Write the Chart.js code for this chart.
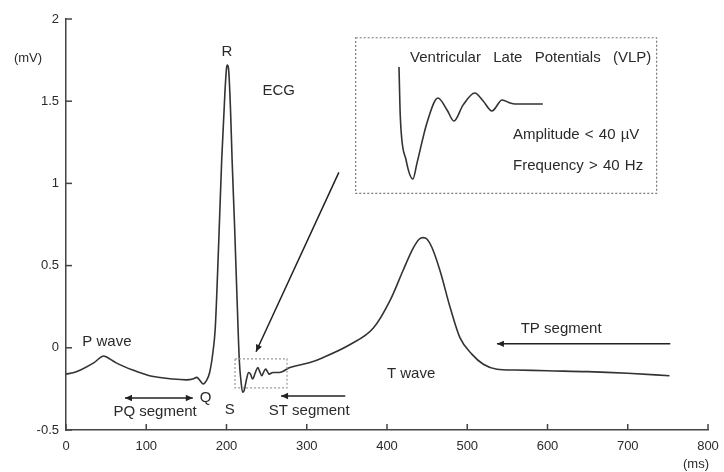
<!DOCTYPE html>
<html>
<head>
<meta charset="utf-8">
<script src="https://cdn.jsdelivr.net/npm/chart.js@4.4.0/dist/chart.umd.min.js"></script>
<style>
  html, body { margin: 0; padding: 0; background: #fff; }
  #wrap { position: relative; width: 724px; height: 472px; }
  #ecg { position: absolute; left: 0; top: 0; }
  #vlp { position: absolute; left: 395px; top: 60px; }
</style>
</head>
<body>
<div id="wrap">
  <canvas id="ecg" width="724" height="472"></canvas>
  <canvas id="vlp" width="152" height="126"></canvas>
</div>
<script>
// ECG trace, time in ms and voltage in mV
const timeMs = [0, 10, 20, 35, 47, 50, 62, 83, 104, 133, 150, 158, 163, 167, 171, 175, 179, 183, 186, 190,
  194, 198, 200, 201, 202.5, 205, 207, 210, 213, 216, 218, 220, 222, 225, 227.5, 230, 232.5, 236, 239, 241,
  244, 247, 249, 251, 253, 258, 266, 279, 304, 320, 354, 383, 404, 420, 432, 440, 445, 450, 456, 466,
  479, 491, 506, 520, 537, 560, 600, 650, 700, 752];
const voltageMv = [-0.16, -0.15, -0.13, -0.09, -0.05, -0.055, -0.09, -0.135, -0.17, -0.19, -0.195, -0.19, -0.18, -0.2, -0.22, -0.2, -0.15, -0.03, 0.12, 0.6,
  1.14, 1.55, 1.7, 1.72, 1.7, 1.45, 1.14, 0.75, 0.32, -0.08, -0.2, -0.27, -0.26, -0.19, -0.15, -0.16, -0.19, -0.15, -0.12, -0.14,
  -0.17, -0.14, -0.13, -0.145, -0.16, -0.15, -0.15, -0.12, -0.09, -0.06, 0.02, 0.12, 0.29, 0.47, 0.6, 0.66, 0.67, 0.66, 0.61, 0.47,
  0.24, 0.06, -0.04, -0.1, -0.13, -0.135, -0.14, -0.145, -0.155, -0.17];

const xTicks = [0, 100, 200, 300, 400, 500, 600, 700, 800];
const yTicks = [-0.5, 0, 0.5, 1, 1.5, 2];

// magnified late potentials (inset), time in ms, amplitude in µV
const vlpTime = [1.05, 1.4, 2.9, 4.7, 5.8, 8.4, 11.3, 13.7, 15.5, 17.9, 21, 23.2, 25.5, 28.2, 30.3, 31.6, 38.9];
const vlpMicroV = [53.3, 5.7, -35, -53.3, -38, 0, 23.8, 12.4, 1.9, 17, 28.6, 21, 11.4, 21.9, 19, 18.1, 18.1];

// labels and arrows, placed in chart units
const waveLabels = [
  { text: 'R', ms: 200.6, mv: 1.80 },
  { text: 'ECG', ms: 265, mv: 1.56 },
  { text: 'P wave', ms: 51, mv: 0.037 },
  { text: 'Q', ms: 174, mv: -0.305 },
  { text: 'PQ segment', ms: 111, mv: -0.39 },
  { text: 'S', ms: 204, mv: -0.378 },
  { text: 'ST segment', ms: 303, mv: -0.384 },
  { text: 'T wave', ms: 430, mv: -0.159 },
  { text: 'TP segment', ms: 617, mv: 0.116 }
];
const insetTexts = [
  { text: 'Ventricular  Late  Potentials  (VLP)', ms: 428.7, mv: 1.762, spacing: '2px' },
  { text: 'Amplitude < 40 \u00b5V', ms: 557, mv: 1.293, spacing: '1px' },
  { text: 'Frequency > 40 Hz', ms: 557, mv: 1.104, spacing: '1px' }
];
const arrows = [
  { from: [340, 1.067], to: [236.8, -0.024], both: false },
  { from: [73.5, -0.305], to: [158, -0.305], both: true },
  { from: [348, -0.293], to: [268, -0.293], both: false },
  { from: [753, 0.024], to: [537, 0.024], both: false }
];
const boxes = [
  { x0: 210.6, x1: 275.4, y0: -0.244, y1: -0.067, color: '#9a9a9a' },
  { x0: 361, x1: 736, y0: 0.939, y1: 1.886, color: '#777' }
];

const FONT = '"Liberation Sans", Arial, sans-serif';
const INK = '#2a2a2a';

function arrowHead(ctx, x1, y1, x2, y2) {
    const a = Math.atan2(y2 - y1, x2 - x1);
    const len = 7, w = 3.2;
    ctx.beginPath();
    ctx.moveTo(x2, y2);
    ctx.lineTo(x2 - len * Math.cos(a) + w * Math.sin(a), y2 - len * Math.sin(a) - w * Math.cos(a));
    ctx.lineTo(x2 - len * Math.cos(a) - w * Math.sin(a), y2 - len * Math.sin(a) + w * Math.cos(a));
    ctx.closePath();
    ctx.fill();
}

const ecgDecor = {
    id: 'ecgDecor',
    afterDraw(chart) {
        const { ctx, chartArea } = chart;
        const xs = chart.scales.x, ys = chart.scales.y;
        ctx.save();

        // inward tick marks
        ctx.strokeStyle = '#444';
        ctx.lineWidth = 1.5;
        yTicks.forEach(v => {
            const py = ys.getPixelForValue(v);
            ctx.beginPath(); ctx.moveTo(chartArea.left, py); ctx.lineTo(chartArea.left + 6, py); ctx.stroke();
        });
        xTicks.forEach(v => {
            const px = xs.getPixelForValue(v);
            ctx.beginPath(); ctx.moveTo(px, chartArea.bottom); ctx.lineTo(px, chartArea.bottom - 6); ctx.stroke();
        });

        // dotted boxes
        boxes.forEach(b => {
            const l = xs.getPixelForValue(b.x0), r = xs.getPixelForValue(b.x1);
            const t = ys.getPixelForValue(b.y1), btm = ys.getPixelForValue(b.y0);
            ctx.strokeStyle = b.color;
            ctx.lineWidth = 1.2;
            ctx.setLineDash([2, 2]);
            ctx.strokeRect(l, t, r - l, btm - t);
        });
        ctx.setLineDash([]);

        // arrows
        ctx.strokeStyle = '#222';
        ctx.fillStyle = '#222';
        ctx.lineWidth = 1.5;
        arrows.forEach(a => {
            const x1 = xs.getPixelForValue(a.from[0]), y1 = ys.getPixelForValue(a.from[1]);
            const x2 = xs.getPixelForValue(a.to[0]), y2 = ys.getPixelForValue(a.to[1]);
            ctx.beginPath(); ctx.moveTo(x1, y1); ctx.lineTo(x2, y2); ctx.stroke();
            arrowHead(ctx, x1, y1, x2, y2);
            if (a.both) arrowHead(ctx, x2, y2, x1, y1);
        });

        // wave labels
        ctx.fillStyle = INK;
        ctx.textBaseline = 'middle';
        ctx.textAlign = 'center';
        ctx.font = '15px ' + FONT;
        waveLabels.forEach(l => {
            ctx.fillText(l.text, xs.getPixelForValue(l.ms), ys.getPixelForValue(l.mv));
        });
        ctx.textAlign = 'left';
        insetTexts.forEach(l => {
            ctx.wordSpacing = l.spacing;
            ctx.fillText(l.text, xs.getPixelForValue(l.ms), ys.getPixelForValue(l.mv));
        });
        ctx.wordSpacing = '0px';

        // units
        ctx.font = '13px ' + FONT;
        ctx.textAlign = 'center';
        ctx.fillText('(mV)', chartArea.left - 38, chartArea.top + 39);
        ctx.fillText('(ms)', chartArea.right - 12, chartArea.bottom + 34);
        ctx.restore();
    }
};

new Chart(document.getElementById('ecg'), {
    type: 'line',
    data: {
        datasets: [{
            data: timeMs.map((t, i) => ({ x: t, y: voltageMv[i] })),
            borderColor: '#333',
            borderWidth: 1.6,
            pointRadius: 0,
            cubicInterpolationMode: 'monotone',
            fill: false
        }]
    },
    options: {
        responsive: false,
        devicePixelRatio: 1,
        animation: false,
        layout: { padding: { top: 19, right: 16, left: 0, bottom: 0 } },
        plugins: { legend: { display: false }, tooltip: { enabled: false } },
        scales: {
            x: {
                type: 'linear', min: 0, max: 800,
                afterBuildTicks: s => { s.ticks = xTicks.map(v => ({ value: v })); },
                afterFit: s => { s.height = 42; s.paddingRight = 0; s.paddingLeft = 0; },
                grid: { display: false, drawTicks: false },
                border: { display: true, color: '#444', width: 1.5 },
                ticks: { color: INK, padding: 9, maxRotation: 0, font: { family: FONT, size: 13 }, callback: v => String(v) }
            },
            y: {
                min: -0.5, max: 2,
                afterBuildTicks: s => { s.ticks = yTicks.map(v => ({ value: v })); },
                afterFit: s => { s.width = 66; },
                grid: { display: false, drawTicks: false },
                border: { display: true, color: '#444', width: 1.5 },
                ticks: { color: INK, padding: 7, font: { family: FONT, size: 13 }, callback: v => String(v) }
            }
        }
    },
    plugins: [ecgDecor]
});

new Chart(document.getElementById('vlp'), {
    type: 'line',
    data: {
        datasets: [{
            data: vlpTime.map((t, i) => ({ x: t, y: vlpMicroV[i] })),
            borderColor: '#333',
            borderWidth: 1.6,
            pointRadius: 0,
            cubicInterpolationMode: 'monotone'
        }]
    },
    options: {
        responsive: false,
        devicePixelRatio: 1,
        animation: false,
        layout: { padding: 0 },
        plugins: { legend: { display: false }, tooltip: { enabled: false } },
        scales: {
            x: { type: 'linear', min: 0, max: 40, display: false },
            y: { min: -60, max: 60, display: false }
        }
    }
});
</script>
</body>
</html>
